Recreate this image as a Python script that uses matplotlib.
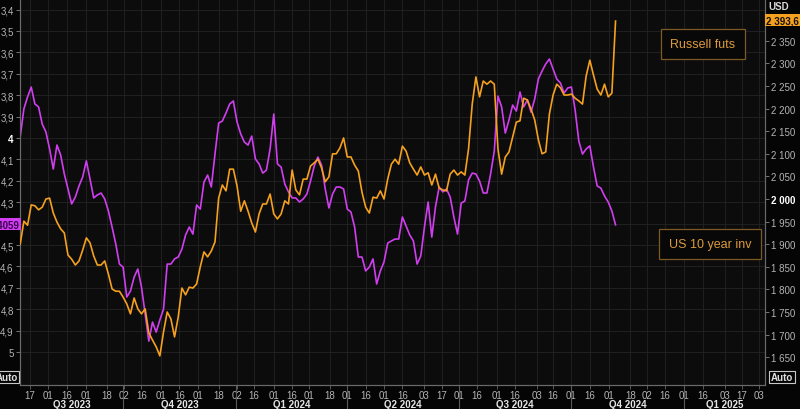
import matplotlib
matplotlib.use("Agg")
import matplotlib.pyplot as plt
import pandas as pd

# 3-day samples, Jul 9 2023 .. Nov 6 2024
dates = pd.date_range("2023-07-09", "2024-11-06", freq="3D")

# US 10y yield (plotted on an inverted axis)
us10y = [
    3.995, 3.864, 3.808, 3.762, 3.841, 3.855, 3.935, 3.972, 4.051, 4.145,
    4.033, 4.079, 4.168, 4.238, 4.308, 4.276, 4.224, 4.182, 4.107, 4.192,
    4.280, 4.266, 4.257, 4.285, 4.341, 4.416, 4.495, 4.589, 4.603, 4.743,
    4.715, 4.650, 4.612, 4.696, 4.822, 4.949, 4.860, 4.907, 4.850, 4.799,
    4.589, 4.589, 4.565, 4.556, 4.519, 4.453, 4.416, 4.449, 4.313, 4.332,
    4.206, 4.173, 4.229, 4.075, 3.930, 3.921, 3.883, 3.841, 3.827, 3.925,
    3.981, 4.019, 4.033, 3.991, 4.098, 4.121, 4.164, 4.150, 4.051, 3.888,
    4.121, 4.136, 4.215, 4.252, 4.280, 4.280, 4.299, 4.285, 4.262, 4.201,
    4.131, 4.089, 4.126, 4.238, 4.327, 4.262, 4.229, 4.229, 4.238, 4.332,
    4.346, 4.416, 4.556, 4.556, 4.621, 4.603, 4.565, 4.682, 4.621, 4.579,
    4.491, 4.481, 4.472, 4.472, 4.369, 4.411, 4.453, 4.481, 4.589, 4.551,
    4.416, 4.299, 4.463, 4.322, 4.229, 4.252, 4.238, 4.276, 4.369, 4.449,
    4.304, 4.294, 4.196, 4.164, 4.168, 4.201, 4.257, 4.257, 4.168, 4.061,
    3.804, 3.855, 3.977, 3.916, 3.846, 3.874, 3.785, 3.855, 3.822, 3.879,
    3.818, 3.724, 3.687, 3.654, 3.631, 3.678, 3.724, 3.743, 3.790, 3.766,
    3.762, 3.869, 4.014, 4.075, 4.051, 4.037, 4.136, 4.224, 4.234, 4.271,
    4.299, 4.341, 4.4059,
]

# Russell 2000 futures, USD
russell = [
    1900, 1951, 1942, 1987, 1985, 1976, 1982, 2000, 2002, 1969,
    1949, 1934, 1925, 1876, 1867, 1854, 1863, 1887, 1914, 1903,
    1874, 1854, 1854, 1863, 1834, 1801, 1796, 1796, 1783, 1768,
    1746, 1781, 1757, 1746, 1757, 1704, 1688, 1673, 1653, 1706,
    1750, 1735, 1695, 1739, 1803, 1788, 1805, 1803, 1812, 1850,
    1883, 1872, 1885, 1905, 2002, 2031, 2018, 2066, 2066, 2029,
    1973, 1996, 1973, 1947, 1927, 1967, 1989, 1989, 2011, 1967,
    1956, 1967, 1996, 1989, 2064, 2020, 2009, 2044, 2044, 2073,
    2080, 2088, 2069, 2038, 2049, 2100, 2100, 2113, 2135, 2093,
    2093, 2075, 2062, 2015, 1982, 1969, 2004, 2002, 2018, 2000,
    2044, 2077, 2088, 2077, 2117, 2106, 2080, 2066, 2053, 2071,
    2053, 2058, 2031, 2055, 2024, 2020, 2018, 2055, 2064, 2053,
    2060, 2053, 2111, 2210, 2270, 2226, 2261, 2254, 2261, 2254,
    2111, 2055, 2093, 2104, 2137, 2170, 2173, 2223, 2219, 2199,
    2175, 2131, 2100, 2104, 2188, 2230, 2254, 2246, 2230, 2230,
    2232, 2223, 2217, 2210, 2272, 2307, 2274, 2243, 2230, 2254,
    2226, 2234, 2393.6,
]

tick_days = [
    "2023-07-17", "2023-08-01", "2023-08-16", "2023-09-01", "2023-09-18",
    "2023-10-02", "2023-10-16", "2023-11-01", "2023-11-16", "2023-12-01",
    "2023-12-18", "2024-01-02", "2024-01-16", "2024-02-01", "2024-02-16",
    "2024-03-01", "2024-03-18", "2024-04-01", "2024-04-16", "2024-05-01",
    "2024-05-16", "2024-06-03", "2024-06-17", "2024-07-01", "2024-07-16",
    "2024-08-01", "2024-08-16", "2024-09-03", "2024-09-16", "2024-10-01",
    "2024-10-16", "2024-11-01", "2024-11-18", "2024-12-02", "2024-12-16",
    "2025-01-01", "2025-01-16", "2025-02-03", "2025-02-17", "2025-03-03",
]
quarter_starts = ["2023-10-01", "2024-01-01", "2024-04-01",
                  "2024-07-01", "2024-10-01", "2025-01-01"]
quarter_names = ["Q3 2023", "Q4 2023", "Q1 2024", "Q2 2024",
                 "Q3 2024", "Q4 2024", "Q1 2025"]
yield_ticks = [3.4, 3.5, 3.6, 3.7, 3.8, 3.9, 4.0, 4.1, 4.2, 4.3,
               4.4, 4.5, 4.6, 4.7, 4.8, 4.9, 5.0]
russell_ticks = [1650, 1700, 1750, 1800, 1850, 1900, 1950, 2000,
                 2050, 2100, 2150, 2200, 2250, 2300, 2350]

BG = "#0c0c0c"
GRID = "#232323"
TXT = "#b4b4b4"
MAGENTA = "#d13ef0"
ORANGE = "#f5a01e"
FONT = "Liberation Sans"

plt.rcParams["font.family"] = FONT

fig = plt.figure(figsize=(8, 4.1), dpi=100, facecolor="#050505")
ax = fig.add_axes([20 / 800, 24 / 410, 745 / 800, 386 / 410])
ax.set_facecolor(BG)
ax2 = ax.twinx()

ax.plot(dates, us10y, color=MAGENTA, lw=1.2, zorder=3)
ax2.plot(dates, russell, color=ORANGE, lw=1.2, zorder=3)

x0 = pd.Timestamp("2023-07-08 20:00")
x1 = pd.Timestamp("2025-03-08")
ax.set_xlim(x0, x1)
ax.set_ylim(5.154, 3.3505)
ax2.set_ylim(1588.6, 2442.4)

# left axis (4,4 sits under the last-value tag, so it gets no label)
ax.set_yticks(yield_ticks)
ax.set_yticklabels(["" if v == 4.4 else ("%g" % v).replace(".", ",")
                    for v in yield_ticks])
ax.tick_params(axis="y", colors="#888888", labelcolor=TXT, labelsize=7,
               length=3, width=0.6, pad=1.5)
for lab, v in zip(ax.get_yticklabels(), yield_ticks):
    if v == 4.0:
        lab.set_fontweight("bold")
        lab.set_color("#ffffff")

# right axis
ax2.set_yticks(russell_ticks)
ax2.set_yticklabels([f"{v:,}".replace(",", " ") for v in russell_ticks])
ax2.tick_params(axis="y", colors="#888888", labelcolor=TXT, labelsize=7,
                length=3, width=0.6, pad=1.5)
for lab, v in zip(ax2.get_yticklabels(), russell_ticks):
    if v == 2000:
        lab.set_fontweight("bold")
        lab.set_color("#ffffff")

# date axis
tks = pd.to_datetime(tick_days)
ax.set_xticks(tks)
ax.set_xticklabels([t.strftime("%d") for t in tks])
ax.tick_params(axis="x", colors="#666666", labelcolor=TXT, labelsize=7,
               length=3, width=0.6, pad=0.5)
ax.grid(True, color=GRID, lw=0.6)
ax.set_axisbelow(True)

for a in (ax, ax2):
    a.spines["top"].set_visible(False)
    for s in ("left", "right", "bottom"):
        a.spines[s].set_color("#6a6a6a")
        a.spines[s].set_linewidth(0.8)

# quarter separators and labels
qs = pd.to_datetime(quarter_starts)
for q in qs:
    ax.axvline(q, ymin=-24 / 386, ymax=0, color="#5a5a5a", lw=0.8, clip_on=False)
edges = [x0] + list(qs) + [x1]
for name, a_, b_ in zip(quarter_names, edges[:-1], edges[1:]):
    mid = a_ + (b_ - a_) / 2
    ax.text(mid, -19 / 386, name, transform=ax.get_xaxis_transform(),
            ha="center", va="center", fontsize=7, fontweight="bold",
            color="#e6e6e6")

# series labels
box_kw = dict(boxstyle="square,pad=0.75", fc="#080808", ec="#7c5a22", lw=0.9)
fig.text(703 / 800, 1 - 45 / 410, "Russell futs", ha="center", va="center",
         fontsize=9, color="#dc9a3c", bbox=box_kw)
fig.text(710 / 800, 1 - 245 / 410, "US 10 year inv", ha="center", va="center",
         fontsize=9, color="#dc9a3c", bbox=box_kw)

# last value tags
fig.text(19.5 / 800, 1 - 225 / 410, "4,4059", ha="right", va="center",
         fontsize=7, fontweight="bold", color="#3a0050",
         bbox=dict(boxstyle="square,pad=0.15", fc=MAGENTA, ec="none"))
fig.text(766 / 800, 1 - 21 / 410, "2 393,6", ha="left", va="center",
         fontsize=7, fontweight="bold", color="#111111",
         bbox=dict(boxstyle="square,pad=0.15", fc=ORANGE, ec="none"))
fig.text(768 / 800, 1 - 7 / 410, "USD", ha="left", va="center",
         fontsize=7, fontweight="bold", color="#d8d8d8")

# "Auto" buttons
auto_kw = dict(boxstyle="square,pad=0.15", fc="#050505", ec="#c8c8c8", lw=0.8)
fig.text(18 / 800, 1 - 378 / 410, "Auto", ha="right", va="center",
         fontsize=7, fontweight="bold", color="#e0e0e0", bbox=auto_kw)
fig.text(782 / 800, 1 - 378 / 410, "Auto", ha="center", va="center",
         fontsize=7, fontweight="bold", color="#e0e0e0", bbox=auto_kw)

fig.savefig("out.png", dpi=100, facecolor=fig.get_facecolor())
